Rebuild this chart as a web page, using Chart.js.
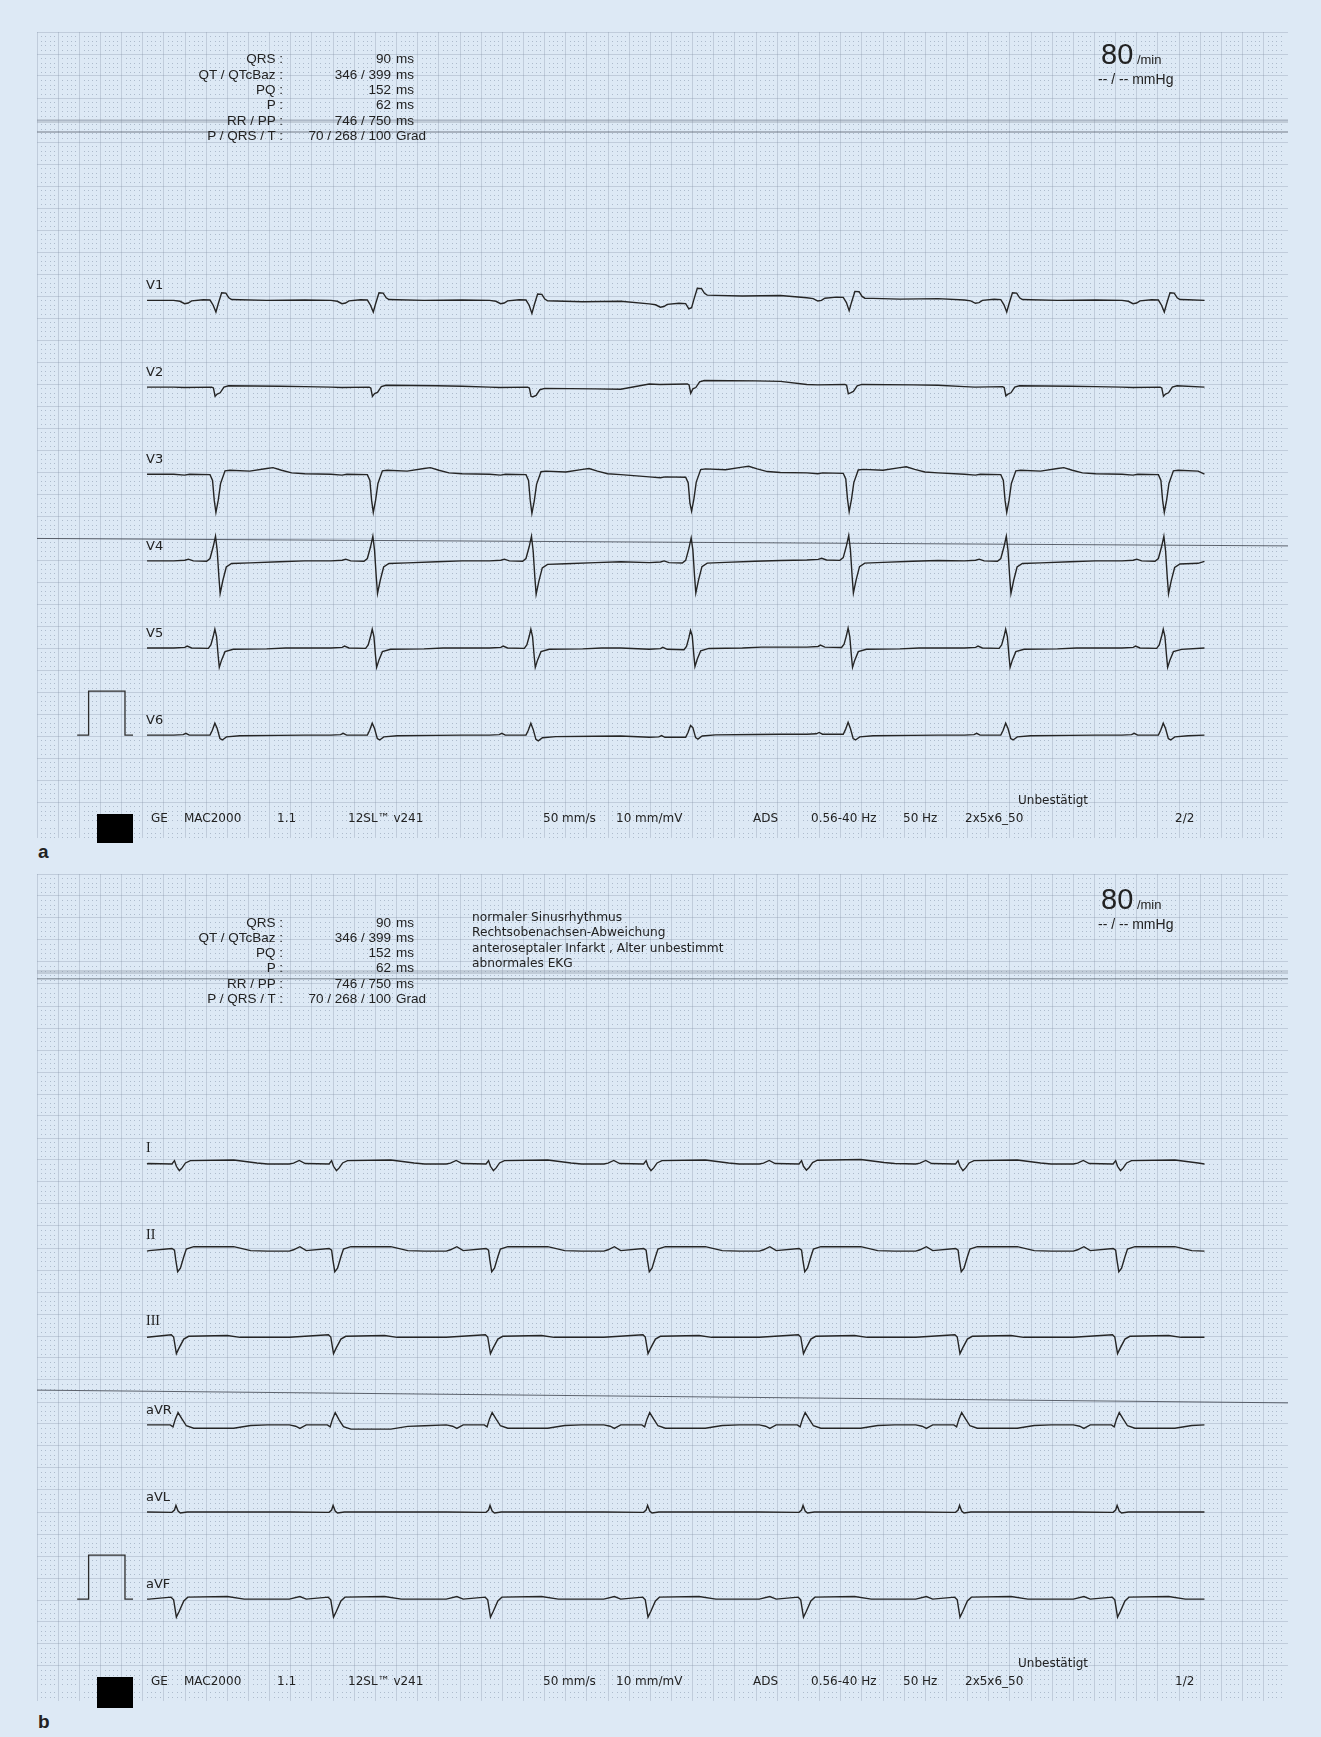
<!DOCTYPE html>
<html>
<head>
<meta charset="utf-8">
<script src="https://cdn.jsdelivr.net/npm/chart.js@4.4.1/dist/chart.umd.min.js"></script>
<style>
  body { margin: 0; width: 1321px; height: 1737px; background: #dde9f5; position: relative; overflow: hidden; }
  .panel { position: absolute; }
  .txt { position: absolute; white-space: nowrap; color: #222; line-height: 1; }
  .blk { position: absolute; background: #000; }
</style>
</head>
<body>
<div class="panel" style="left:37px;top:32px;width:1251px;height:806px"><canvas id="ecgA" width="1251" height="806"></canvas></div>
<div class="panel" style="left:37px;top:874px;width:1251px;height:827px"><canvas id="ecgB" width="1251" height="827"></canvas></div>
<div class="blk" style="left:97px;top:814px;width:36px;height:29px"></div>
<div class="blk" style="left:97px;top:1677px;width:36px;height:31px"></div>
<script>
// paper: 50 mm/s, 10 mm/mV (scan is 4.23 px/mm across, 4.4 px/mm down)
const PX_PER_S = 211.5;
const PX_PER_MV = 44;
const TRACE_START = 0.52;   // s from left paper edge
const STRIP_LEN = 5.0;

const leadsA = ['V1', 'V2', 'V3', 'V4', 'V5', 'V6'];
const leadsB = ['I', 'II', 'III', 'aVR', 'aVL', 'aVF'];

// QRS marks (s from strip start)
const beatsA = [0.326, 1.07, 1.82, 2.575, 3.32, 4.065, 4.81];
const beatsB = [0.15, 0.893, 1.635, 2.38, 3.115, 3.855, 4.60];

// one complex per lead: [s from QRS mark, mV]
const complexV1 = [[-0.2, 0], [-0.17, -0.02], [-0.148, -0.075], [-0.131, -0.06], [-0.115, -0.01], [-0.06, 0.015], [-0.028, 0.008], [-0.013, -0.11], [0, -0.265], [0.011, -0.076], [0.027, 0.174], [0.047, 0.167], [0.061, 0.06], [0.074, 0.02], [0.113, 0.015], [0.24, 0], [0.42, 0.01]];
const complexV2 = [[-0.2, 0], [-0.15, -0.01], [-0.02, 0], [-0.012, -0.02], [-0.004, -0.21], [0.006, -0.16], [0.02, -0.13], [0.038, 0], [0.06, 0.03], [0.3, 0.02], [0.42, 0.01]];
const complexV3 = [[-0.2, 0], [-0.148, -0.02], [-0.125, 0], [-0.028, -0.01], [-0.016, -0.14], [-0.008, -0.59], [0, -0.87], [0.011, -0.59], [0.022, -0.21], [0.043, 0.076], [0.066, 0.09], [0.16, 0.07], [0.24, 0.13], [0.27, 0.15], [0.31, 0.09], [0.358, 0.03], [0.42, 0.01]];
const complexV4 = [[-0.2, 0], [-0.147, 0.015], [-0.13, 0.04], [-0.107, 0], [-0.044, -0.008], [-0.028, 0.053], [-0.013, 0.32], [-0.002, 0.56], [0.006, 0.24], [0.014, -0.36], [0.02, -0.74], [0.033, -0.44], [0.049, -0.14], [0.074, -0.06], [0.16, -0.045], [0.3, -0.02], [0.42, 0]];
const complexV5 = [[-0.2, 0], [-0.147, 0.015], [-0.136, 0.045], [-0.115, 0], [-0.036, -0.008], [-0.024, 0.068], [-0.013, 0.26], [-0.005, 0.43], [0.003, 0.26], [0.011, -0.2], [0.016, -0.44], [0.027, -0.27], [0.043, -0.083], [0.082, -0.03], [0.24, -0.02], [0.33, 0], [0.42, 0]];
const complexV6 = [[-0.2, 0], [-0.155, 0.01], [-0.142, 0.04], [-0.126, 0], [-0.028, 0], [-0.017, 0.11], [-0.005, 0.27], [0.006, 0.15], [0.019, -0.076], [0.03, -0.11], [0.05, -0.04], [0.113, -0.015], [0.3, -0.005], [0.42, 0]];

const complexI = [[-0.22, 0], [-0.2, 0.02], [-0.173, 0.08], [-0.145, 0.01], [-0.032, 0], [-0.02, 0.076], [-0.011, -0.053], [0.003, -0.15], [0.016, -0.09], [0.032, 0.023], [0.055, 0.076], [0.26, 0.09], [0.37, 0.023], [0.42, 0]];
const complexII = [[-0.22, 0], [-0.2, 0.03], [-0.17, 0.1], [-0.14, 0.01], [-0.032, 0.06], [-0.02, 0.02], [-0.014, -0.2], [-0.005, -0.47], [0.008, -0.39], [0.024, -0.13], [0.036, 0.045], [0.071, 0.1], [0.26, 0.1], [0.34, 0.01], [0.42, 0]];
const complexIII = [[-0.22, 0], [-0.035, 0.06], [-0.024, 0.008], [-0.011, -0.37], [0.002, -0.24], [0.024, -0.04], [0.047, 0.023], [0.23, 0.04], [0.29, 0], [0.42, 0]];
const complexAVR = [[-0.22, 0], [-0.19, -0.03], [-0.17, -0.08], [-0.14, 0], [-0.04, 0], [-0.027, -0.045], [-0.016, 0.13], [-0.003, 0.28], [0.016, 0.13], [0.036, -0.02], [0.071, -0.076], [0.26, -0.076], [0.34, -0.015], [0.42, 0]];
const complexAVL = [[-0.22, 0], [-0.032, -0.008], [-0.02, 0.045], [-0.013, 0.15], [-0.003, 0.023], [0.008, -0.023], [0.04, 0], [0.42, 0]];
const complexAVF = [[-0.22, 0], [-0.17, 0.06], [-0.14, 0], [-0.036, 0.045], [-0.024, -0.015], [-0.011, -0.41], [0.002, -0.28], [0.024, -0.04], [0.043, 0.045], [0.23, 0.06], [0.31, 0], [0.42, 0]];

// baseline level before / after each QRS (mV)
const levelV1 = [[0, 0], [0, 0], [0, -0.03], [-0.08, 0.1], [0.06, 0.03], [0.01, 0], [0, 0]];
const levelV2 = [[0, 0], [0, 0.01], [0, -0.06], [0.07, 0.12], [0.06, 0.03], [0.01, 0], [0, 0]];
const levelV3 = [[0, 0], [0, 0], [0, -0.02], [-0.06, 0.03], [0.03, 0.02], [0, 0], [0, 0]];
const levelV4 = [[0, 0], [0, 0], [0, -0.02], [-0.04, 0.01], [0.02, 0.01], [0, 0], [0, -0.01]];
const levelV5 = [[0, 0], [0, 0], [0, 0], [-0.03, 0.02], [0.02, 0], [0, 0], [0, 0]];
const levelV6 = [[0, 0], [0, 0], [0, -0.02], [-0.05, 0.02], [0.02, 0], [0, 0], [0, 0]];
const levelI = [[0, 0], [0, 0], [0, 0], [0, 0], [0, 0.01], [0, 0], [0, 0]];
const levelII = [[0, 0], [0, 0], [0, 0], [0, 0], [0, 0], [0, 0], [0, 0]];
const levelIII = [[0, 0], [0, 0], [0, 0], [0, 0], [0, 0], [0, 0], [0, 0]];
const levelAVR = [[0, 0], [0, -0.02], [0, 0], [0, 0], [0, 0], [0, 0], [0, 0]];
const levelAVL = [[0, 0], [0, 0], [0, 0], [0, 0], [0, 0], [0, 0], [0, 0]];
const levelAVF = [[0, 0], [0, 0], [0, 0], [0, 0], [0, 0], [0, 0], [0, 0]];

// 1 mV calibration pulse (s from paper edge, mV)
const calT = [0.19, 0.244, 0.244, 0.416, 0.416, 0.454];
const calV = [0, 0, 1, 1, 0, 0];

const headLabels = ['QRS :', 'QT / QTcBaz :', 'PQ :', 'P :', 'RR / PP :', 'P / QRS / T :'];
const headValues = ['90', '346 / 399', '152', '62', '746 / 750', '70 / 268 / 100'];
const headUnits = ['ms', 'ms', 'ms', 'ms', 'ms', 'Grad'];
const diagnosis = ['normaler Sinusrhythmus', 'Rechtsobenachsen-Abweichung', 'anteroseptaler Infarkt , Alter unbestimmt', 'abnormales EKG'];
const footer = ['GE', 'MAC2000', '1.1', '12SL\u2122 v241', '50 mm/s', '10 mm/mV', 'ADS', '0.56-40 Hz', '50 Hz', '2x5x6_50'];

// layout
const SANS = '"Liberation Sans", Arial, sans-serif';
const VERD = '"DejaVu Sans", Verdana, sans-serif';
const SERIF = '"Liberation Serif", "Times New Roman", serif';
const footerX = [151, 184, 277, 348, 543, 616, 753, 811, 903, 965];

const panels = [
  {
    canvas: 'ecgA', left: 37, top: 32, width: 1251, height: 806,
    leads: leadsA, beats: beatsA,
    complexes: [complexV1, complexV2, complexV3, complexV4, complexV5, complexV6],
    levels: [levelV1, levelV2, levelV3, levelV4, levelV5, levelV6],
    rows: [-6.1, -8.07, -10.05, -12.02, -14.0, -15.98],
    scan: [[-2.02, -2.02, 4, 'rgba(110,120,130,0.25)'], [-2.27, -2.27, 1.5, 'rgba(80,90,100,0.5)'], [-11.51, -11.68, 1, 'rgba(60,65,75,0.8)']],
    headY: 59.3, rateY: 54, footY: 818, page: '2/2', tag: 'a', tagY: 851, diag: false
  },
  {
    canvas: 'ecgB', left: 37, top: 874, width: 1251, height: 827,
    leads: leadsB, beats: beatsB,
    complexes: [complexI, complexII, complexIII, complexAVR, complexAVL, complexAVF],
    levels: [levelI, levelII, levelIII, levelAVR, levelAVL, levelAVF],
    rows: [-6.59, -8.57, -10.53, -12.52, -14.5, -16.48],
    scan: [[-2.23, -2.23, 4, 'rgba(110,120,130,0.25)'], [-2.38, -2.38, 1.5, 'rgba(80,90,100,0.5)'], [-11.73, -12.02, 1, 'rgba(60,65,75,0.8)']],
    headY: 922.5, rateY: 899, footY: 1681, page: '1/2', tag: 'b', tagY: 1721, diag: true
  }
];

function buildTrace(beats, complex, levels, base) {
  let pts = [{ x: TRACE_START, y: base + levels[0][0] }];
  beats.forEach((bt, i) => {
    complex.forEach(([dt, v]) => {
      let t = bt + dt;
      if (t < 0 || t > STRIP_LEN) return;
      let lv = dt < 0 ? levels[i][0] : levels[i][1];
      pts.push({ x: TRACE_START + t, y: base + v + lv });
    });
  });
  let last = levels[levels.length - 1][1];
  pts.push({ x: TRACE_START + STRIP_LEN, y: base + last });
  return pts;
}

// 1 mm dots between the 5 mm lines
const paperDots = {
  id: 'paperDots',
  beforeDatasetsDraw(chart) {
    const { ctx, chartArea: a, scales: { x, y } } = chart;
    const mx = x.getPixelForValue(0.02) - x.getPixelForValue(0);
    const my = y.getPixelForValue(-0.1) - y.getPixelForValue(0);
    ctx.save();
    ctx.fillStyle = 'rgba(115,130,155,0.45)';
    for (let i = 1; a.left + i * mx < a.right; i++) {
      if (i % 5 === 0) continue;
      let px = Math.round(a.left + i * mx);
      for (let j = 1; a.top + j * my < a.bottom; j++) {
        if (j % 5 === 0) continue;
        ctx.fillRect(px, Math.round(a.top + j * my), 1, 1);
      }
    }
    ctx.restore();
  }
};

function addText(str, x, y, size, family, opts = {}) {
  let d = document.createElement('div');
  d.className = 'txt';
  d.textContent = str;
  d.style.left = x + 'px';
  d.style.top = y + 'px';
  d.style.fontSize = size + 'px';
  d.style.fontFamily = family;
  if (opts.bold) d.style.fontWeight = 'bold';
  d.style.transform = 'translate(' + (opts.right ? '-100%' : '0') + ', -50%)';
  document.body.appendChild(d);
  return d;
}

panels.forEach(p => {
  let datasets = [];
  p.leads.forEach((name, k) => {
    datasets.push({
      label: name,
      data: buildTrace(p.beats, p.complexes[k], p.levels[k], p.rows[k]),
      borderColor: '#252525',
      borderWidth: 1.4
    });
  });
  let calBase = p.rows[p.rows.length - 1];
  datasets.push({
    label: 'cal',
    data: calT.map((t, i) => ({ x: t, y: calBase + calV[i] })),
    borderColor: '#2c2c2c',
    borderWidth: 1.3
  });
  let xMax = p.width / PX_PER_S;
  p.scan.forEach(([y0, y1, w, c], i) => {
    datasets.push({
      label: 'scan' + i,
      data: [{ x: 0, y: y0 }, { x: xMax, y: y1 }],
      borderColor: c,
      borderWidth: w
    });
  });

  new Chart(document.getElementById(p.canvas), {
    type: 'line',
    data: { datasets },
    options: {
      responsive: false,
      animation: false,
      devicePixelRatio: 1,
      events: [],
      layout: { padding: 0 },
      plugins: { legend: { display: false }, tooltip: { enabled: false } },
      elements: { point: { radius: 0 }, line: { tension: 0, fill: false } },
      scales: {
        x: {
          type: 'linear', min: 0, max: xMax,
          ticks: { display: false, stepSize: 0.1 },
          grid: { color: 'rgba(125,140,160,0.3)', lineWidth: 1, drawTicks: false },
          border: { display: false }
        },
        y: {
          type: 'linear', min: -p.height / PX_PER_MV, max: 0,
          ticks: { display: false, stepSize: 0.5 },
          grid: { color: 'rgba(125,140,160,0.3)', lineWidth: 1, drawTicks: false },
          border: { display: false }
        }
      }
    },
    plugins: [paperDots]
  });

  // lead names
  p.leads.forEach((name, k) => {
    let yb = p.top - p.rows[k] * PX_PER_MV;
    let serif = /^I+$/.test(name);
    addText(name, 146, yb - 16, serif ? 14 : 13, serif ? SERIF : VERD);
  });

  // measurements
  headLabels.forEach((s, i) => {
    let y = p.headY + i * 15.3;
    addText(s, 283, y, 13.5, SANS, { right: true });
    addText(headValues[i], 391, y, 13.5, SANS, { right: true });
    addText(headUnits[i], 396, y, 13.5, SANS);
  });
  if (p.diag) {
    diagnosis.forEach((s, i) => addText(s, 472, 917 + i * 15.3, 12.2, VERD));
  }

  // heart rate
  let r = addText('', 1101, p.rateY, 29, SANS);
  r.innerHTML = '80<span style="font-size:13px"> /min</span>';
  addText('-- / -- mmHg', 1098, p.rateY + 25, 14, SANS);

  // device line
  footer.forEach((s, i) => addText(s, footerX[i], p.footY, 12, VERD));
  addText(p.page, 1175, p.footY, 12, VERD);
  addText('Unbest\u00e4tigt', 1018, p.footY - 18, 12, VERD);
  addText(p.tag, 38, p.tagY, 19, SANS, { bold: true });
});
</script>
</body>
</html>
